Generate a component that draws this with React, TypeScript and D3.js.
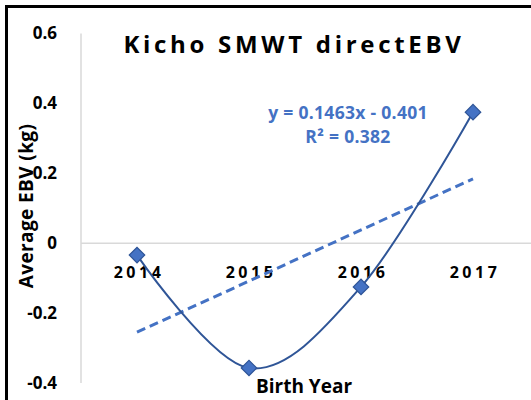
import * as d3 from "d3";
import { useEffect, useRef } from "react";

const years = ["2014", "2015", "2016", "2017"];
const ebvValues = [-0.034, -0.357, -0.125, 0.375];
const yTicks = [0.6, 0.4, 0.2, 0, -0.2, -0.4];
const trendSlope = 0.1463;
const trendIntercept = -0.401;
const equationLines = ["y = 0.1463x - 0.401", "R\u00b2 = 0.382"];

const width = 531;
const height = 400;
const font = "'Open Sans', Lato, sans-serif";
const blue = "#4472c4";
const darkBlue = "#2f5597";

export default function App() {
  const svgRef = useRef<SVGSVGElement | null>(null);

  useEffect(() => {
    const svg = d3.select(svgRef.current);
    svg.selectAll("*").remove();

    const x = d3.scaleBand().domain(years).range([81, 529]);
    const y = d3.scaleLinear().domain([-0.4, 0.6]).range([383, 33.5]);
    const cx = (i: number) => (x(years[i]) ?? 0) + x.bandwidth() / 2;

    // outer border
    svg
      .append("rect")
      .attr("x", 6.5)
      .attr("y", 6.5)
      .attr("width", width + 10)
      .attr("height", height + 10)
      .attr("fill", "none")
      .attr("stroke", "#000")
      .attr("stroke-width", 3);

    // y axis line
    svg
      .append("line")
      .attr("x1", 81)
      .attr("x2", 81)
      .attr("y1", y(0.6))
      .attr("y2", y(-0.4))
      .attr("stroke", "#d9d9d9")
      .attr("stroke-width", 1.5);

    // category axis at zero
    svg
      .append("line")
      .attr("x1", 81)
      .attr("x2", width)
      .attr("y1", y(0))
      .attr("y2", y(0))
      .attr("stroke", "#d9d9d9")
      .attr("stroke-width", 1.5);

    svg
      .append("g")
      .selectAll("text")
      .data(yTicks)
      .join("text")
      .attr("x", 57)
      .attr("y", (d) => y(d))
      .attr("dy", "0.35em")
      .attr("text-anchor", "end")
      .style("font-family", font)
      .style("font-weight", 700)
      .style("font-size", "17px")
      .text((d) => (d === 0 ? "0" : d.toFixed(1)));

    svg
      .append("g")
      .selectAll("text")
      .data(years)
      .join("text")
      .attr("x", (_d, i) => cx(i) + 2)
      .attr("y", y(0) + 35)
      .attr("text-anchor", "middle")
      .style("font-family", font)
      .style("font-weight", 700)
      .style("font-size", "16px")
      .style("letter-spacing", "3.5px")
      .text((d) => d);

    // title
    svg
      .append("text")
      .attr("x", 294)
      .attr("y", 53)
      .attr("text-anchor", "middle")
      .style("font-family", font)
      .style("font-weight", 700)
      .style("font-size", "24px")
      .style("letter-spacing", "3.7px")
      .text("Kicho SMWT directEBV");

    svg
      .append("text")
      .attr("transform", `translate(33, 206) rotate(-90)`)
      .attr("text-anchor", "middle")
      .style("font-family", font)
      .style("font-weight", 700)
      .style("font-size", "19px")
      .style("letter-spacing", "0.4px")
      .text("Average EBV (kg)");

    svg
      .append("text")
      .attr("x", 304)
      .attr("y", 393)
      .attr("text-anchor", "middle")
      .style("font-family", font)
      .style("font-weight", 700)
      .style("font-size", "19px")
      .text("Birth Year");

    // trendline
    svg
      .append("line")
      .attr("x1", cx(0))
      .attr("x2", cx(3))
      .attr("y1", y(trendSlope * 1 + trendIntercept))
      .attr("y2", y(trendSlope * 4 + trendIntercept))
      .attr("stroke", blue)
      .attr("stroke-width", 3)
      .attr("stroke-dasharray", "9 5");

    const line = d3
      .line<number>()
      .x((_d, i) => cx(i))
      .y((d) => y(d))
      .curve(d3.curveCardinal.tension(0));

    svg
      .append("path")
      .datum(ebvValues)
      .attr("d", line)
      .attr("fill", "none")
      .attr("stroke", darkBlue)
      .attr("stroke-width", 2);

    svg
      .append("g")
      .selectAll("path")
      .data(ebvValues)
      .join("path")
      .attr("d", d3.symbol(d3.symbolSquare, 120)())
      .attr("transform", (d, i) => `translate(${cx(i)},${y(d)}) rotate(45)`)
      .attr("fill", blue)
      .attr("stroke", darkBlue)
      .attr("stroke-width", 1.2);

    svg
      .append("g")
      .selectAll("text")
      .data(equationLines)
      .join("text")
      .attr("x", 348)
      .attr("y", (_d, i) => 119 + i * 24)
      .attr("text-anchor", "middle")
      .style("font-family", font)
      .style("font-weight", 700)
      .style("font-size", "17.5px")
      .style("letter-spacing", "0.3px")
      .style("fill", blue)
      .text((d) => d);
  }, []);

  return (
    <>
      <style>{"body{margin:0}"}</style>
      <svg
        ref={svgRef}
        width={width}
        height={height}
        style={{ display: "block", background: "#fff" }}
      />
    </>
  );
}
